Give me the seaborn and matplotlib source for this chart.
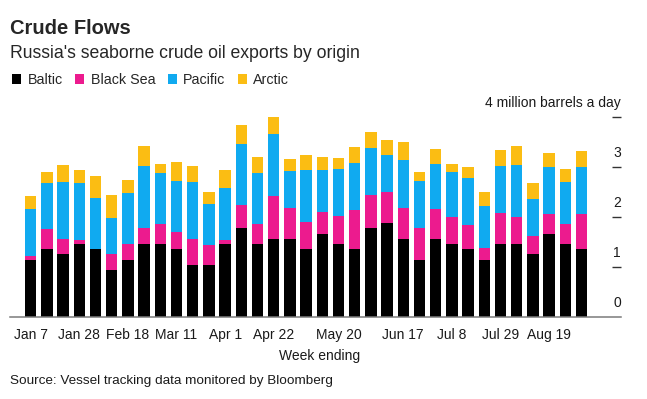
import pandas as pd
import numpy as np
import matplotlib.pyplot as plt
import seaborn as sns
from matplotlib.patches import Patch

# ------------- #
# Chart data    #
# ------------- #
weeks = ["Jan 7", "Jan 14", "Jan 21", "Jan 28", "Feb 4", "Feb 11", "Feb 18", "Feb 25",
         "Mar 4", "Mar 11", "Mar 18", "Mar 25", "Apr 1", "Apr 8", "Apr 15", "Apr 22",
         "Apr 29", "May 6", "May 13", "May 20", "May 27", "Jun 3", "Jun 10", "Jun 17",
         "Jun 24", "Jul 1", "Jul 8", "Jul 15", "Jul 22", "Jul 29", "Aug 5", "Aug 12",
         "Aug 19", "Aug 26", "Sep 2"]

# million barrels a day
baltic = [1.13, 1.35, 1.26, 1.46, 1.36, 0.93, 1.13, 1.46, 1.46, 1.36, 1.03, 1.03,
          1.46, 1.78, 1.46, 1.55, 1.55, 1.36, 1.66, 1.46, 1.36, 1.78, 1.87, 1.55,
          1.13, 1.55, 1.45, 1.35, 1.13, 1.45, 1.45, 1.25, 1.66, 1.45, 1.35]
black_sea = [0.09, 0.40, 0.30, 0.08, 0.00, 0.33, 0.33, 0.32, 0.39, 0.33, 0.53, 0.40,
             0.08, 0.45, 0.39, 0.86, 0.63, 0.54, 0.44, 0.56, 0.78, 0.65, 0.62, 0.63,
             0.65, 0.61, 0.55, 0.49, 0.24, 0.62, 0.55, 0.37, 0.39, 0.40, 0.70]
pacific = [0.94, 0.92, 1.13, 1.13, 1.02, 0.72, 1.02, 1.24, 1.02, 1.03, 1.14, 0.83,
           1.03, 1.23, 1.02, 1.25, 0.74, 1.03, 0.83, 0.93, 0.93, 0.95, 0.74, 0.96,
           0.94, 0.89, 0.90, 0.94, 0.85, 0.95, 1.04, 0.74, 0.94, 0.85, 0.95]
arctic = [0.25, 0.23, 0.35, 0.27, 0.43, 0.45, 0.25, 0.39, 0.18, 0.38, 0.32, 0.24,
          0.36, 0.38, 0.32, 0.33, 0.23, 0.30, 0.27, 0.22, 0.33, 0.31, 0.30, 0.35,
          0.18, 0.30, 0.15, 0.22, 0.27, 0.31, 0.37, 0.31, 0.29, 0.25, 0.31]

tick_weeks = ["Jan 7", "Jan 28", "Feb 18", "Mar 11", "Apr 1", "Apr 22",
              "May 20", "Jun 17", "Jul 8", "Jul 29", "Aug 19"]
y_ticks = [0, 1, 2, 3, 4]

series = ["Baltic", "Black Sea", "Pacific", "Arctic"]
colors = ["#000000", "#ec1b8e", "#10aaf0", "#fbbd13"]

# --------------------- #
# Cumulative stack data #
# --------------------- #
df = pd.DataFrame({"week": weeks, "Baltic": baltic, "Black Sea": black_sea,
                   "Pacific": pacific, "Arctic": arctic})
df[series] = df[series].cumsum(axis=1)

# ---------- #
# Plotting   #
# ---------- #
sns.set_style("white")
plt.rcParams["font.family"] = ["Liberation Sans", "DejaVu Sans"]

fig = plt.figure(figsize=(6.47, 3.99), dpi=100)
ax = fig.add_axes([10 / 647, (399 - 316.7) / 399, 611 / 647, 215 / 399])

# draw from the top of the stack downward so each layer covers the previous
for name, color in reversed(list(zip(series, colors))):
    sns.barplot(data=df, x="week", y=name, order=weeks, color=color,
                saturation=1, width=0.7, linewidth=0, errorbar=None, ax=ax)

ax.set_xlim(-1.28, 36.44)
ax.set_ylim(0, 4.3)
ax.set_xlabel("")
ax.set_ylabel("")

for side in ["top", "right", "left"]:
    ax.spines[side].set_visible(False)
ax.spines["bottom"].set_color("#7a7a7a")
ax.spines["bottom"].set_linewidth(1.1)

ax.set_xticks([weeks.index(w) for w in tick_weeks])
ax.set_xticklabels(tick_weeks, fontsize=10, color="#1a1a1a")
ax.tick_params(axis="x", direction="out", length=5, width=1, color="#7a7a7a", pad=3)
ax.set_yticks([])

# right-side value labels sitting above short tick lines;
# the top one is folded into the unit label
yt = ax.get_yaxis_transform()
ax.hlines([t for t in y_ticks if t > 0], 0.985, 1.0, transform=yt,
          color="#333333", lw=1, clip_on=False)
for t in y_ticks[:-1]:
    ax.text(1.0, t + 0.28, str(t), transform=yt, ha="right", va="center",
            fontsize=10, color="#1a1a1a")
ax.text(1.0, y_ticks[-1] + 0.27, f"{y_ticks[-1]} million barrels a day", transform=yt,
        ha="right", va="center", fontsize=10, color="#1a1a1a", clip_on=False)

# titles, legend, notes
fig.text(10 / 647, 1 - 29 / 399, "Crude Flows", fontsize=14.5, fontweight="bold",
         va="center", ha="left")
fig.text(10 / 647, 1 - 54 / 399, "Russia's seaborne crude oil exports by origin",
         fontsize=12.7, va="center", ha="left")

handles = [Patch(facecolor=c, edgecolor="none", label=s) for s, c in zip(series, colors)]
fig.legend(handles=handles, loc="center left", bbox_to_anchor=(12 / 647, 1 - 80 / 399),
           ncol=4, frameon=False, fontsize=10.3, handlelength=0.65, handleheight=0.65,
           handletextpad=0.45, columnspacing=0.85, borderpad=0, borderaxespad=0)

fig.text(320 / 647, 1 - 355.7 / 399, "Week ending", fontsize=10, ha="center",
         va="center", color="#1a1a1a")
fig.text(10 / 647, 1 - 380.7 / 399, "Source: Vessel tracking data monitored by Bloomberg",
         fontsize=9.7, ha="left", va="center", color="#1a1a1a")

plt.savefig("out.png", dpi=100)
